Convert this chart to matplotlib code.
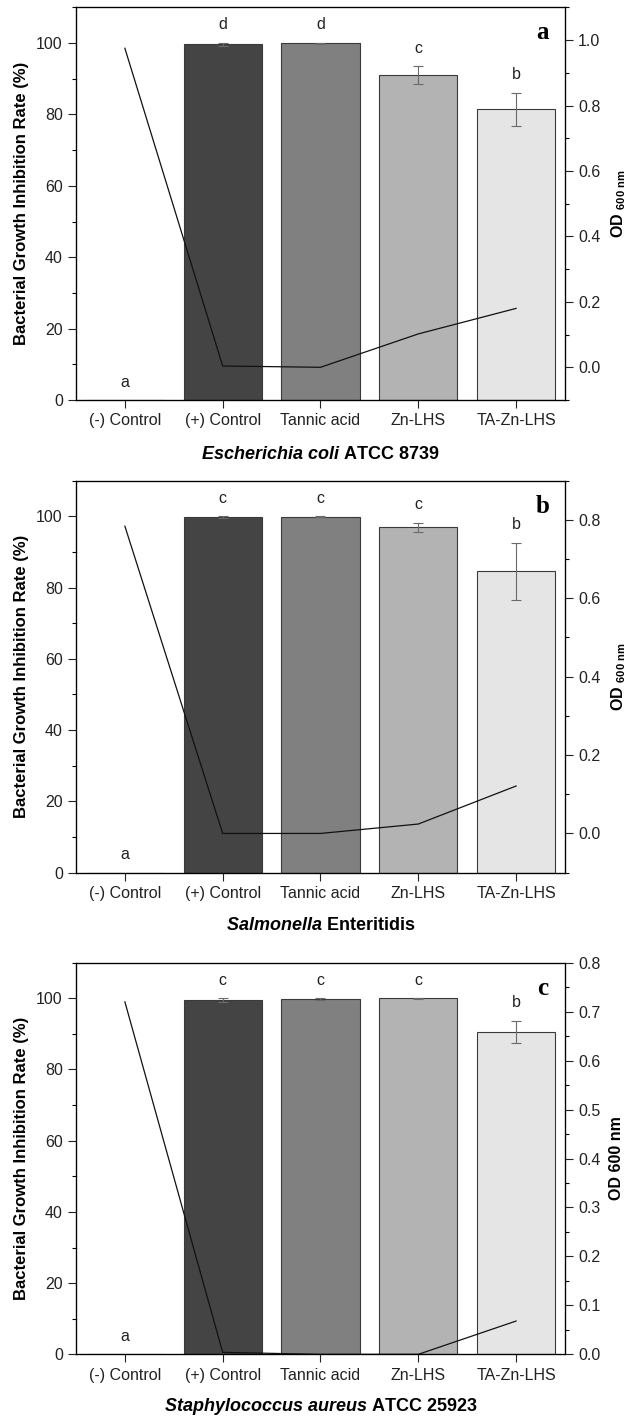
import numpy as np
import matplotlib
matplotlib.use('Agg')
import matplotlib.pyplot as plt
from matplotlib.ticker import MultipleLocator

plt.rcParams['font.family'] = ['Liberation Sans', 'DejaVu Sans']
plt.rcParams['mathtext.fontset'] = 'custom'
plt.rcParams['mathtext.it'] = 'Liberation Sans:italic:bold'
plt.rcParams['mathtext.bf'] = 'Liberation Sans:bold'
plt.rcParams['mathtext.rm'] = 'Liberation Sans:bold'

categories = ['(-) Control', '(+) Control', 'Tannic acid', 'Zn-LHS', 'TA-Zn-LHS']
bar_colors = ['#ffffff', '#444444', '#808080', '#b3b3b3', '#e5e5e5']

# panel a - E. coli
inhib_a = [0, 99.7, 99.9, 91.0, 81.4]
err_a = [0, 0.4, 0.2, 2.5, 4.7]
od_a = [0.975, 0.004, 0.0, 0.102, 0.180]
letters_a = ['a', 'd', 'd', 'c', 'b']

# panel b - Salmonella
inhib_b = [0, 99.7, 99.9, 96.9, 84.6]
err_b = [0, 0.3, 0.1, 1.3, 8.0]
od_b = [0.784, 0.0, 0.0, 0.024, 0.121]
letters_b = ['a', 'c', 'c', 'c', 'b']

# panel c - S. aureus
inhib_c = [0, 99.5, 99.8, 100.0, 90.6]
err_c = [0, 0.6, 0.3, 0.1, 3.1]
od_c = [0.720, 0.004, 0.0, 0.0, 0.068]
letters_c = ['a', 'c', 'c', 'c', 'b']

fs = 11.5
tc = '#222222'


def panel(rect, inhib, err, od, letters, tag, xlab, odlab, od_lim, od_major, od_minor, xpad):
    ax = fig.add_axes(rect)
    x = np.arange(len(categories))
    ax.bar(x, inhib, width=0.8, color=bar_colors, edgecolor='#3a3a3a', linewidth=0.8, zorder=2)
    for i in range(1, len(x)):
        ax.errorbar(x[i], inhib[i], yerr=err[i], color='#6a6a6a', elinewidth=0.8,
                    capsize=3.5, capthick=0.8, zorder=3)
    for i in range(len(x)):
        ax.text(x[i], inhib[i] + err[i] + 5, letters[i], ha='center', va='center',
                fontsize=fs, color=tc)
    ax.set_xlim(-0.5, 4.5)
    ax.set_ylim(0, 110)
    ax.set_xticks(x)
    ax.set_xticklabels(categories)
    ax.yaxis.set_major_locator(MultipleLocator(20))
    ax.yaxis.set_minor_locator(MultipleLocator(10))
    ax.tick_params(axis='both', which='major', direction='out', length=5.5, width=0.8,
                   labelsize=fs, colors=tc, pad=4)
    ax.tick_params(axis='y', which='minor', direction='out', length=3, width=0.8)
    ax.set_ylabel('Bacterial Growth Inhibition Rate (%)', fontsize=12, fontweight='bold', labelpad=5)
    ax.set_xlabel(xlab, fontsize=13, fontweight='bold', labelpad=xpad)
    ax.text(0.955, 0.935, tag, transform=ax.transAxes, ha='center', va='center',
            fontsize=18, fontweight='bold', family='Liberation Serif')
    for s in ax.spines.values():
        s.set_linewidth(0.9)

    ax2 = ax.twinx()
    ax2.plot(x, od, color='#111111', linewidth=0.9, zorder=4)
    ax2.set_ylim(od_lim)
    ax2.yaxis.set_major_locator(MultipleLocator(od_major))
    ax2.yaxis.set_minor_locator(MultipleLocator(od_minor))
    ax2.yaxis.set_major_formatter(matplotlib.ticker.FormatStrFormatter('%.1f'))
    ax2.tick_params(axis='y', which='major', direction='out', length=5.5, width=0.8,
                    labelsize=fs, colors=tc, pad=4)
    ax2.tick_params(axis='y', which='minor', direction='out', length=3, width=0.8)
    ax2.set_ylabel(odlab, fontsize=11.5, fontweight='bold', labelpad=6)
    return ax


fig = plt.figure(figsize=(6.29, 14.18), dpi=100)

panel([0.1208, 0.7179, 0.7774, 0.2769], inhib_a, err_a, od_a, letters_a, 'a',
      r'$\mathit{Escherichia\ coli}$ ATCC 8739', r'OD $_{\mathbf{600\ nm}}$',
      (-0.1, 1.1), 0.2, 0.1, 13)
panel([0.1208, 0.3846, 0.7774, 0.2764], inhib_b, err_b, od_b, letters_b, 'b',
      r'$\mathit{Salmonella}$ Enteritidis', r'OD $_{\mathbf{600\ nm}}$',
      (-0.1, 0.9), 0.2, 0.1, 12)
panel([0.1208, 0.0449, 0.7774, 0.2762], inhib_c, err_c, od_c, letters_c, 'c',
      r'$\mathit{Staphylococcus\ aureus}$ ATCC 25923', 'OD 600 nm',
      (0, 0.8), 0.1, 0.05, 10)

plt.savefig('out.png', dpi=100)
